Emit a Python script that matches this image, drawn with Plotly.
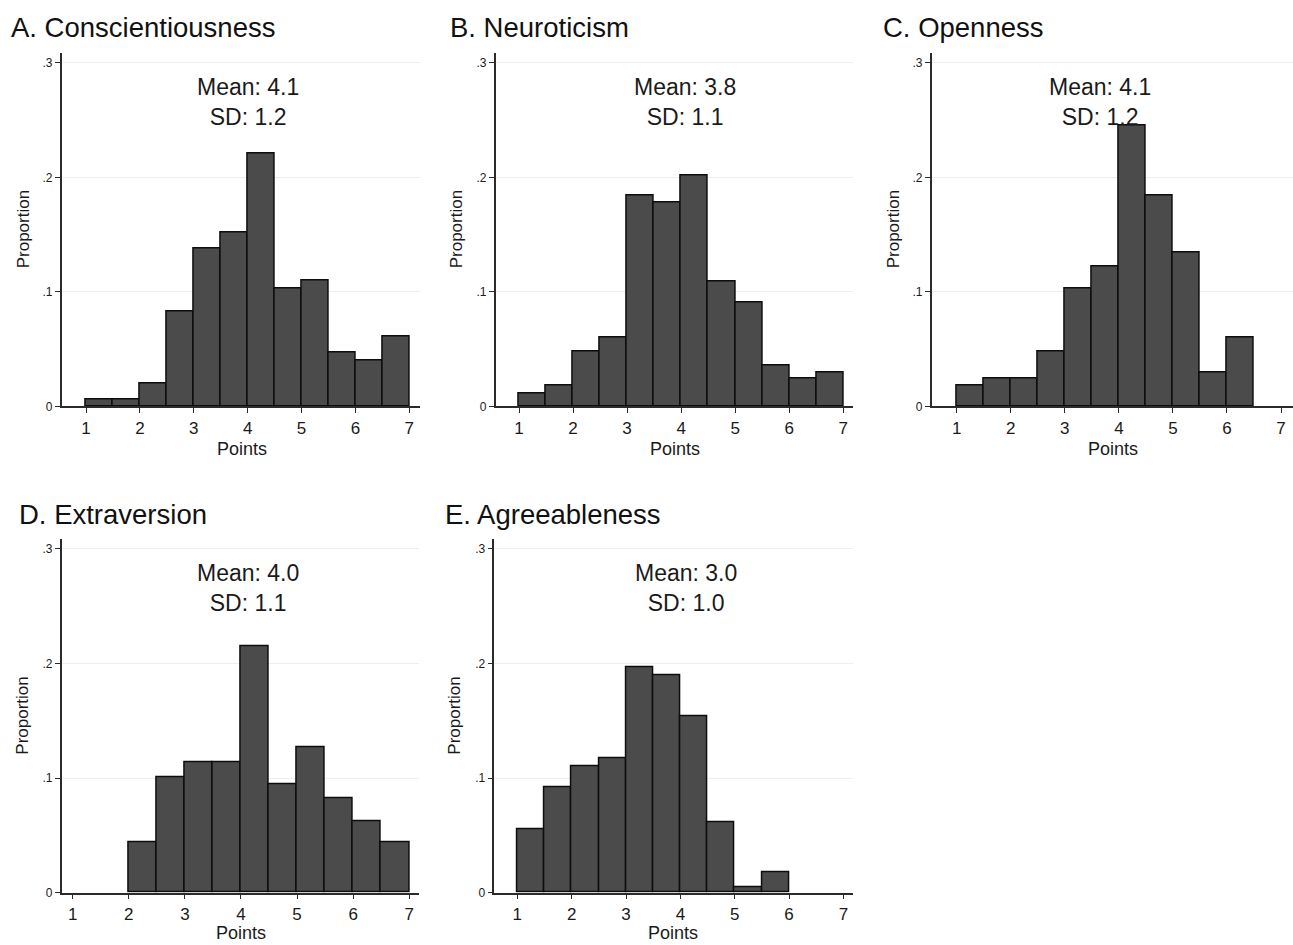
import plotly.graph_objects as go

# ---------------- data ----------------
bin_starts = [1.0, 1.5, 2.0, 2.5, 3.0, 3.5, 4.0, 4.5, 5.0, 5.5, 6.0, 6.5]
bin_width = 0.5

panel_titles = ["A. Conscientiousness", "B. Neuroticism", "C. Openness",
                "D. Extraversion", "E. Agreeableness"]

conscientiousness = [0.006, 0.006, 0.020, 0.083, 0.138, 0.152, 0.221, 0.103, 0.110, 0.047, 0.040, 0.061]
neuroticism       = [0.011, 0.018, 0.048, 0.060, 0.184, 0.178, 0.202, 0.109, 0.091, 0.036, 0.024, 0.030]
openness          = [0.018, 0.024, 0.024, 0.048, 0.103, 0.122, 0.245, 0.184, 0.134, 0.030, 0.060, None]
extraversion      = [None, None, 0.044, 0.101, 0.114, 0.114, 0.215, 0.095, 0.127, 0.082, 0.062, 0.044]
agreeableness     = [0.055, 0.092, 0.110, 0.117, 0.197, 0.190, 0.154, 0.061, 0.005, 0.018, None, None]

series = [conscientiousness, neuroticism, openness, extraversion, agreeableness]

means = ["4.1", "3.8", "4.1", "4.0", "3.0"]
sds   = ["1.2", "1.1", "1.2", "1.1", "1.0"]

x_ticks = [1, 2, 3, 4, 5, 6, 7]
y_ticks = [0, 0.1, 0.2, 0.3]
y_ticktext = ["0", ".1", ".2", ".3"]

x_title = "Points"
y_title = "Proportion"

# ---------------- layout geometry (page pixels) ----------------
W, H = 1293, 945
FONT = "Liberation Sans, Arial, sans-serif"

panels = [
    dict(xpx=(61.7, 420.0), xr=(0.549, 7.199), ypx=(53.0, 409.5), ytop=0.309,
         title=(9.0, 27.5), stat_x=4.00, ylab=(23, 231), xlab=(241.7, 452.0)),
    dict(xpx=(495.7, 853.3), xr=(0.569, 7.185), ypx=(53.0, 409.5), ytop=0.309,
         title=(447.5, 27.5), stat_x=4.08, ylab=(456, 231), xlab=(674.7, 452.0)),
    dict(xpx=(931.7, 1293.0), xr=(0.537, 7.222), ypx=(53.0, 409.5), ytop=0.309,
         title=(880.5, 27.5), stat_x=3.65, ylab=(893, 231), xlab=(1112.7, 452.0)),
    dict(xpx=(61.7, 419.3), xr=(0.804, 7.180), ypx=(543.3, 899.3), ytop=0.3084,
         title=(17.0, 518.5), stat_x=4.13, ylab=(23, 721), xlab=(241.2, 940.0)),
    dict(xpx=(494.3, 852.7), xr=(0.577, 7.170), ypx=(543.3, 899.3), ytop=0.3084,
         title=(443.0, 518.5), stat_x=4.10, ylab=(455, 721), xlab=(673.3, 940.0)),
]

def fx(px):
    return px / W

def fy(px):
    return 1 - px / H

fig = go.Figure()
annotations = []
axis_color = "#2b2b2b"
grid_color = "#e9f0f0"

for i, (vals, p) in enumerate(zip(series, panels)):
    n = "" if i == 0 else str(i + 1)
    xs = [b for b, v in zip(bin_starts, vals) if v is not None]
    ys = [v for v in vals if v is not None]
    fig.add_trace(go.Bar(
        x=xs, y=ys, width=bin_width, offset=0,
        marker=dict(color="#4b4b4b", line=dict(color="#0d0d0d", width=1.5)),
        xaxis="x" + n, yaxis="y" + n, showlegend=False,
        hovertemplate="%{x}: %{y:.3f}<extra></extra>",
    ))

    fig.layout["xaxis" + n] = dict(
        domain=[fx(p["xpx"][0]), min(1.0, fx(p["xpx"][1]))], range=list(p["xr"]),
        anchor="y" + n, tickmode="array", tickvals=x_ticks,
        ticktext=[str(t) for t in x_ticks],
        ticks="outside", ticklen=5, tickwidth=1.2, tickcolor=axis_color,
        showline=True, linecolor=axis_color, linewidth=1.5,
        showgrid=False, zeroline=False,
        tickfont=dict(family=FONT, size=17, color="#1a1a1a"),
        fixedrange=True,
    )
    fig.layout["yaxis" + n] = dict(
        domain=[fy(p["ypx"][1]), fy(p["ypx"][0])], range=[0, p["ytop"]],
        anchor="x" + n, tickmode="array", tickvals=y_ticks, ticktext=y_ticktext,
        ticks="outside", ticklen=5, tickwidth=1.2, tickcolor=axis_color,
        showline=True, linecolor=axis_color, linewidth=1.5,
        showgrid=True, gridcolor=grid_color, gridwidth=1, zeroline=False,
        tickfont=dict(family=FONT, size=12, color="#1a1a1a"),
        fixedrange=True,
    )

    # panel title
    annotations.append(dict(
        text=panel_titles[i], xref="paper", yref="paper",
        x=fx(p["title"][0]), y=fy(p["title"][1]), xanchor="left", yanchor="middle",
        showarrow=False, font=dict(family=FONT, size=27.5, color="#111"),
    ))
    # mean / sd text
    annotations.append(dict(
        text=f"Mean: {means[i]}<br>SD: {sds[i]}",
        xref="x" + n, yref="y" + n, x=p["stat_x"], y=0.266,
        xanchor="center", yanchor="middle", align="center",
        showarrow=False, font=dict(family=FONT, size=23, color="#1a1a1a"),
    ))
    # axis titles
    annotations.append(dict(
        text=x_title, xref="paper", yref="paper",
        x=fx(p["xlab"][0]), y=fy(p["xlab"][1]), xanchor="center", yanchor="middle",
        showarrow=False, font=dict(family=FONT, size=18, color="#1a1a1a"),
    ))
    annotations.append(dict(
        text=y_title, xref="paper", yref="paper", textangle=-90,
        x=fx(p["ylab"][0]), y=fy(p["ylab"][1]), xanchor="center", yanchor="middle",
        showarrow=False, font=dict(family=FONT, size=17, color="#1a1a1a"),
    ))

fig.update_layout(
    width=W, height=H,
    margin=dict(l=0, r=0, t=0, b=0),
    paper_bgcolor="white", plot_bgcolor="white",
    annotations=annotations,
    bargap=0,
)

# remove the default 8px body margin so the figure fills the window exactly
fig.write_html("out.html",
               config={"displayModeBar": False},
               post_script="document.body.style.margin='0';document.body.style.overflow='hidden';")
